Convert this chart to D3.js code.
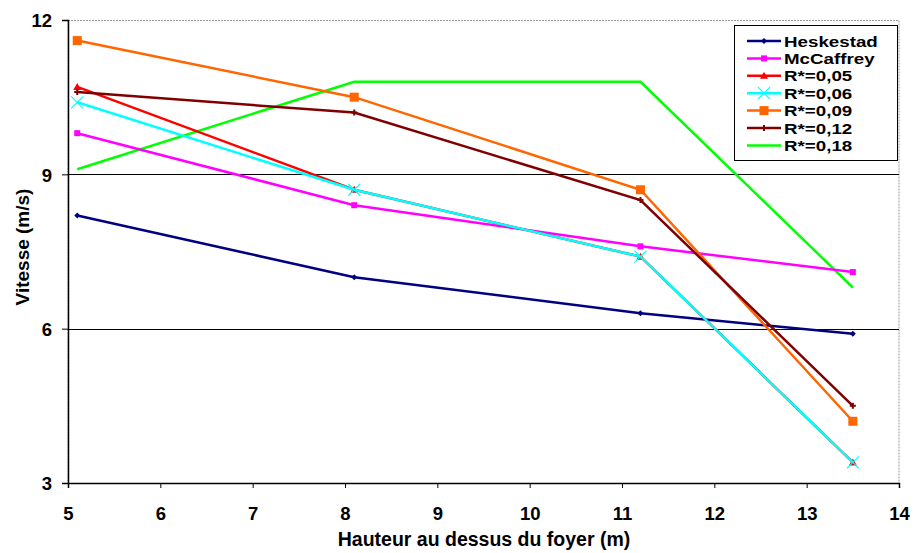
<!DOCTYPE html>
<html><head><meta charset="utf-8">
<script src="https://cdn.jsdelivr.net/npm/d3@7"></script>
<style>
body{margin:0;background:#fff;}
text{font-family:"Liberation Sans",Arial,sans-serif;font-weight:bold;}
</style></head>
<body><svg id="c" width="914" height="553"></svg>
<script>
const xValues = [5.1, 8.1, 11.2, 13.5];
const seriesNames = ["Heskestad","McCaffrey","R*=0,05","R*=0,06","R*=0,09","R*=0,12","R*=0,18"];
const heskestad = [8.2, 7.0, 6.3, 5.9];
const mccaffrey = [9.8, 8.4, 7.6, 7.1];
const r005 = [10.7, 8.7, 7.4, 3.4];
const r006 = [10.4, 8.7, 7.4, 3.4];
const r009 = [11.6, 10.5, 8.7, 4.2];
const r012 = [10.6, 10.2, 8.5, 4.5];
const r018 = [9.1, 10.8, 10.8, 6.8];
const xTicks = [5,6,7,8,9,10,11,12,13,14];
const yTicks = [3,6,9,12];

const seriesValues = [heskestad, mccaffrey, r005, r006, r009, r012, r018];
const colors = ["#000080","#FF00FF","#FF0000","#00FFFF","#FF6600","#800000","#00FF00"];
const markers = ["diamond","square","triangle","cross","bigsquare","star","none"];
const drawOrder = [6,0,1,2,3,4,5];

const svg = d3.select("#c");
const L=68, R=899, T=20, B=483;
const x = d3.scaleLinear().domain([5,14]).range([L,R]);
const y = d3.scaleLinear().domain([3,12]).range([B,T]);

// plot border (gray)
svg.append("rect").attr("x",L).attr("y",T+0.5).attr("width",R-L).attr("height",B-T)
  .attr("fill","none").attr("stroke","#999").attr("stroke-width",1).attr("stroke-dasharray","2,1");
// gridlines
svg.append("g").selectAll("line").data(yTicks.filter(d=>d>3 && d<12)).join("line")
  .attr("x1",L).attr("x2",R).attr("y1",d=>Math.round(y(d))+0.5).attr("y2",d=>Math.round(y(d))+0.5)
  .attr("stroke","#000").attr("stroke-width",1);

// axes
const ax = svg.append("g").attr("transform",`translate(0,${B})`)
  .call(d3.axisBottom(x).tickValues(xTicks).tickFormat(d3.format("d")).tickSize(5));
ax.select(".domain").attr("stroke","#000").attr("stroke-width",1.5);
ax.selectAll("text").attr("font-size",18.5).attr("fill","#000").attr("font-weight","bold").attr("dy",null).attr("y",37);
const ay = svg.append("g").attr("transform",`translate(${L},0)`)
  .call(d3.axisLeft(y).tickValues(yTicks).tickFormat(d3.format("d")).tickSize(6).tickPadding(10));
ay.select(".domain").attr("stroke","#000").attr("stroke-width",1.5);
ay.selectAll("text").attr("font-size",18.5).attr("fill","#000").attr("font-weight","bold").attr("dy","0.36em");

// axis titles
svg.append("text").attr("x",484).attr("y",546).attr("text-anchor","middle").attr("font-size",19.5).text("Hauteur au dessus du foyer (m)");
svg.append("text").attr("transform","translate(29,247) rotate(-90)").attr("text-anchor","middle").attr("font-size",19).text("Vitesse (m/s)");

function drawMarker(g, type, cx, cy, color){
  if(type==="diamond"){
    g.append("path").attr("d",`M${cx},${cy-3}L${cx+3},${cy}L${cx},${cy+3}L${cx-3},${cy}Z`).attr("fill",color);
  } else if(type==="square"){
    g.append("rect").attr("x",cx-3).attr("y",cy-3).attr("width",6).attr("height",6).attr("fill",color);
  } else if(type==="bigsquare"){
    g.append("rect").attr("x",cx-4.5).attr("y",cy-4.5).attr("width",9).attr("height",9).attr("fill",color);
  } else if(type==="triangle"){
    g.append("path").attr("d",`M${cx},${cy-4}L${cx+4},${cy+3}L${cx-4},${cy+3}Z`).attr("fill",color);
  } else if(type==="cross"){
    g.append("path").attr("d",`M${cx-6},${cy-6}L${cx+6},${cy+6}M${cx-6},${cy+6}L${cx+6},${cy-6}`).attr("stroke",color).attr("stroke-width",1.2);
  } else if(type==="star"){
    g.append("path").attr("d",`M${cx-3},${cy}L${cx+3},${cy}M${cx},${cy-3}L${cx},${cy+3}`).attr("stroke",color).attr("stroke-width",2);
  }
}

const line = d3.line().x((d,i)=>x(xValues[i])).y(d=>y(d));
drawOrder.forEach(si=>{
  const g = svg.append("g");
  g.append("path").datum(seriesValues[si]).attr("d",line).attr("fill","none")
    .attr("stroke",colors[si]).attr("stroke-width",2.5).attr("stroke-linejoin","miter");
  seriesValues[si].forEach((v,i)=>drawMarker(g, markers[si], x(xValues[i]), y(v), colors[si]));
});

// legend
const lg = svg.append("g");
lg.append("rect").attr("x",734.5).attr("y",25.5).attr("width",163).attr("height",135)
  .attr("fill","#fff").attr("stroke","#000").attr("stroke-width",1);
seriesNames.forEach((n,i)=>{
  const yy = 41 + i*17.4;
  lg.append("line").attr("x1",747).attr("x2",781).attr("y1",yy).attr("y2",yy).attr("stroke",colors[i]).attr("stroke-width",2.5);
  drawMarker(lg, markers[i], 764, yy, colors[i]);
  lg.append("text").attr("transform",`translate(784,${yy+5.5}) scale(1.25,1)`)
    .attr("font-size",15).attr("fill","#000").text(n);
});
</script></body></html>
